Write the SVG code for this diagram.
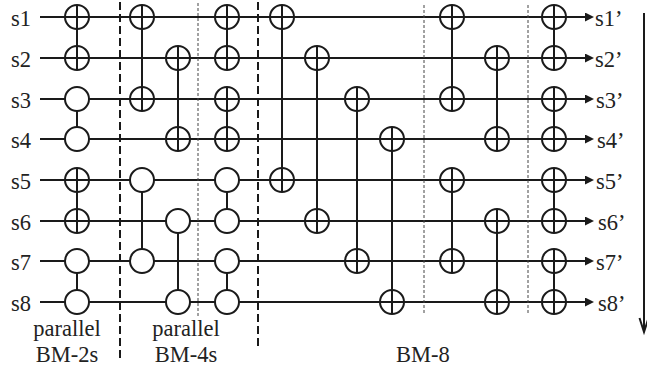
<svg xmlns="http://www.w3.org/2000/svg" xmlns:xlink="http://www.w3.org/1999/xlink" width="647" height="367" viewBox="0 0 647 367">
<style>
.w{stroke:#1a1a1a;stroke-width:2;fill:none}
.v{stroke:#1a1a1a;stroke-width:2}
.dash{stroke:#1a1a1a;stroke-width:2;stroke-dasharray:8 4}
.dot{stroke:#444;stroke-width:1;stroke-dasharray:3 2}
.t{font-family:'Liberation Serif','Times New Roman',serif;font-size:22.5px;fill:#222}
</style>
<defs>
<marker id="ah" markerUnits="userSpaceOnUse" markerWidth="9" markerHeight="9" refX="0" refY="4.5" orient="auto">
<path d="M0,0 L9,4.5 L0,9 z" fill="#1a1a1a"/>
</marker>
<g id="xor"><circle r="12" fill="#fff" stroke="#1a1a1a" stroke-width="2"/><path d="M-12,0H12M0,-12V12" stroke="#1a1a1a" stroke-width="2"/></g>
<g id="ctl"><circle r="12" fill="#fff" stroke="#1a1a1a" stroke-width="2"/></g>
</defs>
<rect width="647" height="367" fill="#fff"/>

<g id="labels-in" class="t">
<text x="11" y="26">s1</text>
<text x="11" y="67">s2</text>
<text x="11" y="108">s3</text>
<text x="11" y="148">s4</text>
<text x="11" y="189">s5</text>
<text x="11" y="230">s6</text>
<text x="11" y="270">s7</text>
<text x="11" y="311">s8</text>
</g>

<g id="connectors">
<g class="w" marker-end="url(#ah)">
<line x1="40" y1="17" x2="585" y2="17"/>
<line x1="40" y1="58" x2="585" y2="58"/>
<line x1="40" y1="99" x2="585" y2="99"/>
<line x1="40" y1="139" x2="585" y2="139"/>
<line x1="40" y1="180" x2="585" y2="180"/>
<line x1="40" y1="221" x2="585" y2="221"/>
<line x1="40" y1="261" x2="585" y2="261"/>
<line x1="40" y1="302" x2="585" y2="302"/>
</g>
<line x1="644" y1="13" x2="644" y2="331" class="w"/>
<path d="M639.5,318 L644,332 L648.5,318" class="w"/>
</g>

<g id="separators">
<line x1="120" y1="2" x2="120" y2="358" class="dash"/>
<line x1="258" y1="2" x2="258" y2="350" class="dash"/>
<line x1="198" y1="3" x2="198" y2="317" class="dot"/>
<line x1="424" y1="5" x2="424" y2="315" class="dot"/>
<line x1="528" y1="5" x2="528" y2="315" class="dot"/>
</g>

<g id="bm2">
<g id="g1"><line x1="77" y1="17" x2="77" y2="58" class="v"/><use xlink:href="#xor" x="77" y="17"/><use xlink:href="#xor" x="77" y="58"/></g>
<g id="g2"><line x1="77" y1="99" x2="77" y2="139" class="v"/><use xlink:href="#ctl" x="77" y="99"/><use xlink:href="#ctl" x="77" y="139"/></g>
<g id="g3"><line x1="77" y1="180" x2="77" y2="221" class="v"/><use xlink:href="#xor" x="77" y="180"/><use xlink:href="#xor" x="77" y="221"/></g>
<g id="g4"><line x1="77" y1="261" x2="77" y2="302" class="v"/><use xlink:href="#ctl" x="77" y="261"/><use xlink:href="#ctl" x="77" y="302"/></g>
</g>

<g id="bm4">
<g id="g5"><line x1="142" y1="17" x2="142" y2="99" class="v"/><use xlink:href="#xor" x="142" y="17"/><use xlink:href="#xor" x="142" y="99"/></g>
<g id="g6"><line x1="142" y1="180" x2="142" y2="261" class="v"/><use xlink:href="#ctl" x="142" y="180"/><use xlink:href="#ctl" x="142" y="261"/></g>
<g id="g7"><line x1="178" y1="58" x2="178" y2="139" class="v"/><use xlink:href="#xor" x="178" y="58"/><use xlink:href="#xor" x="178" y="139"/></g>
<g id="g8"><line x1="178" y1="221" x2="178" y2="302" class="v"/><use xlink:href="#ctl" x="178" y="221"/><use xlink:href="#ctl" x="178" y="302"/></g>
<g id="g9"><line x1="227" y1="17" x2="227" y2="58" class="v"/><use xlink:href="#xor" x="227" y="17"/><use xlink:href="#xor" x="227" y="58"/></g>
<g id="g10"><line x1="227" y1="99" x2="227" y2="139" class="v"/><use xlink:href="#xor" x="227" y="99"/><use xlink:href="#xor" x="227" y="139"/></g>
<g id="g11"><line x1="227" y1="180" x2="227" y2="221" class="v"/><use xlink:href="#ctl" x="227" y="180"/><use xlink:href="#ctl" x="227" y="221"/></g>
<g id="g12"><line x1="227" y1="261" x2="227" y2="302" class="v"/><use xlink:href="#ctl" x="227" y="261"/><use xlink:href="#ctl" x="227" y="302"/></g>
</g>

<g id="bm8">
<g id="g13"><line x1="282" y1="17" x2="282" y2="180" class="v"/><use xlink:href="#xor" x="282" y="17"/><use xlink:href="#xor" x="282" y="180"/></g>
<g id="g14"><line x1="317" y1="58" x2="317" y2="221" class="v"/><use xlink:href="#xor" x="317" y="58"/><use xlink:href="#xor" x="317" y="221"/></g>
<g id="g15"><line x1="357" y1="99" x2="357" y2="261" class="v"/><use xlink:href="#xor" x="357" y="99"/><use xlink:href="#xor" x="357" y="261"/></g>
<g id="g16"><line x1="392" y1="139" x2="392" y2="302" class="v"/><use xlink:href="#xor" x="392" y="139"/><use xlink:href="#xor" x="392" y="302"/></g>
<g id="g17"><line x1="452" y1="17" x2="452" y2="99" class="v"/><use xlink:href="#xor" x="452" y="17"/><use xlink:href="#xor" x="452" y="99"/></g>
<g id="g18"><line x1="452" y1="180" x2="452" y2="261" class="v"/><use xlink:href="#xor" x="452" y="180"/><use xlink:href="#xor" x="452" y="261"/></g>
<g id="g19"><line x1="497" y1="58" x2="497" y2="139" class="v"/><use xlink:href="#xor" x="497" y="58"/><use xlink:href="#xor" x="497" y="139"/></g>
<g id="g20"><line x1="497" y1="221" x2="497" y2="302" class="v"/><use xlink:href="#xor" x="497" y="221"/><use xlink:href="#xor" x="497" y="302"/></g>
<g id="g21"><line x1="554" y1="17" x2="554" y2="58" class="v"/><use xlink:href="#xor" x="554" y="17"/><use xlink:href="#xor" x="554" y="58"/></g>
<g id="g22"><line x1="554" y1="99" x2="554" y2="139" class="v"/><use xlink:href="#xor" x="554" y="99"/><use xlink:href="#xor" x="554" y="139"/></g>
<g id="g23"><line x1="554" y1="180" x2="554" y2="221" class="v"/><use xlink:href="#xor" x="554" y="180"/><use xlink:href="#xor" x="554" y="221"/></g>
<g id="g24"><line x1="554" y1="261" x2="554" y2="302" class="v"/><use xlink:href="#xor" x="554" y="261"/><use xlink:href="#xor" x="554" y="302"/></g>
</g>

<g id="labels-out" class="t">
<text x="595" y="26">s1’</text>
<text x="595" y="67">s2’</text>
<text x="596" y="108">s3’</text>
<text x="597" y="148">s4’</text>
<text x="596" y="189">s5’</text>
<text x="598" y="230">s6’</text>
<text x="596" y="270">s7’</text>
<text x="598" y="311">s8’</text>
</g>

<g id="stage-labels" class="t" text-anchor="middle">
<text x="67" y="336">parallel</text>
<text x="67" y="362">BM-2s</text>
<text x="186" y="336">parallel</text>
<text x="186" y="362">BM-4s</text>
<text x="423" y="362">BM-8</text>
</g>
</svg>
